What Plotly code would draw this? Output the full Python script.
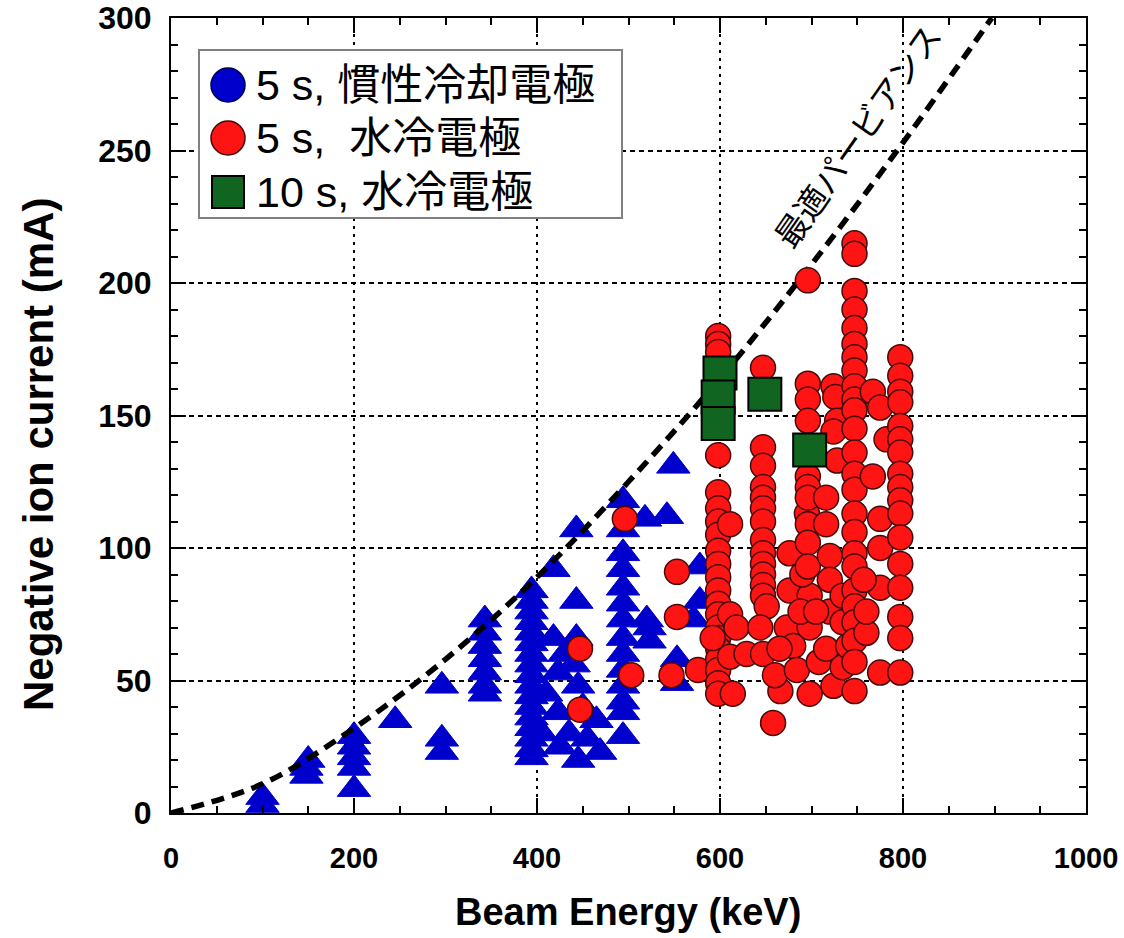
import plotly.graph_objects as go

# --- 5 s, inertially cooled electrode (triangles) ---
tri_x = [100, 100,
         148, 148, 150,
         200, 200, 200, 200, 200,
         245,
         296, 296, 296,
         343, 343, 343, 343, 343, 343, 343,
         394, 394, 394, 394, 394, 394, 394, 394, 394, 394, 394, 394, 394, 394, 394, 394, 394,
         405, 418, 418, 423, 423, 425, 443, 443, 443, 445, 445, 465, 469,
         430, 440, 450, 435, 455, 410,
         494, 494, 494, 494, 494, 494, 494, 494, 494, 494, 494, 494, 494, 494,
         518, 520, 523, 523, 542, 549, 553, 553, 571, 578, 578]
tri_y = [3, 6,
         14, 17, 20,
         29, 25, 21, 17, 9,
         35,
         48, 28, 23,
         73, 68, 63, 58, 53, 48, 45,
         84, 80, 76, 72, 68, 64, 60, 56, 52, 48, 44, 40, 36, 32, 28, 24, 21,
         30, 92, 66, 53, 38, 25, 107, 80, 66, 48, 20, 35, 23,
         60, 56, 40, 30, 28, 45,
         118, 107, 98, 92, 85, 79, 73, 66, 60, 54, 48, 42, 38, 29,
         111, 73, 65, 70, 112, 131, 58, 49, 73, 93, 80]

# --- 5 s, water-cooled electrode (circles) ---
circ_x = [447, 447, 496, 503, 547, 553, 553, 576,
          598, 598, 598, 598, 598, 598, 598, 598, 598, 598, 598, 598, 598, 598, 598, 598, 598, 598, 598, 598, 598,
          611, 614, 611, 618, 611, 629, 592,
          647, 647, 647, 647, 647, 647, 647, 647, 647, 647, 647, 647, 647,
          651, 644, 647, 666, 658, 660,
          676, 695, 676, 698, 673, 698, 680, 684, 698, 690, 665, 688, 708,
          696, 696, 696, 696, 696, 696, 696, 696, 696, 696,
          716, 716, 720, 720, 720, 716, 724, 734, 734, 734, 724, 726, 728, 724, 728, 705, 740,
          747, 747, 747, 747, 747, 747, 747, 747, 747, 747, 747, 747, 747, 747, 747, 747, 747,
          747, 747, 747, 747, 747, 747, 747, 747,
          767, 775, 782, 767, 775, 775, 775, 760, 760, 775, 757,
          797, 797, 797, 797, 797, 797, 797, 797, 797, 797, 797, 797, 797, 797, 797, 797, 797]
circ_y = [62, 39, 111, 52, 52, 91, 74, 54,
          180, 177, 174, 135, 121, 115, 110, 105, 99, 94, 89, 84, 79, 75, 70, 66, 62, 58, 54, 49, 45,
          109, 45, 75, 70, 59, 60, 66,
          168, 138, 131, 123, 119, 115, 110, 103, 98, 94, 90, 86, 82,
          78, 70, 60, 46, 34, 52,
          98, 113, 84, 82, 70, 70, 63, 54, 45, 90, 62, 76, 57,
          201, 162, 156, 148, 127, 123, 119, 109, 102, 93,
          109, 119, 97, 88, 76, 62, 48, 72, 82, 55, 161, 157, 148, 144, 133, 76, 63,
          215, 211, 197, 190, 183, 177, 172, 167, 161, 156, 152, 145, 136, 128, 122, 113, 106,
          98, 93, 84, 78, 72, 65, 57, 46,
          159, 153, 141, 127, 111, 100, 85, 68, 76, 53, 88,
          172, 165, 159, 155, 146, 141, 136, 128, 123, 118, 113, 104, 94, 85, 74, 66, 53]

# --- 10 s, water-cooled electrode (squares) ---
sq_x = [600, 598, 598, 649, 698]
sq_y = [166, 157, 147, 158, 137]

# --- optimum perveance curve ---
perv_x = [0, 100, 200, 300, 400, 500, 600, 700, 800, 897]
perv_y = [0, 11, 32, 58, 89, 125, 164, 207, 253, 300]

x_ticks = [0, 200, 400, 600, 800, 1000]
y_ticks = [0, 50, 100, 150, 200, 250, 300]

legend_labels = ["5 s, 慣性冷却電極", "5 s,\u00a0\u00a0水冷電極", "10 s, 水冷電極"]

BLUE = "rgb(0,0,205)"
RED = "rgb(255,20,20)"
GREEN = "rgb(16,102,32)"

fig = go.Figure()

fig.add_trace(go.Scatter(
    x=tri_x, y=tri_y, mode="markers", showlegend=False,
    marker=dict(symbol="triangle-up", size=29, color=BLUE,
                line=dict(color=BLUE, width=1)),
))
fig.add_trace(go.Scatter(
    x=perv_x, y=perv_y, mode="lines", showlegend=False,
    line=dict(color="black", width=5.5, dash="13px,8px", shape="spline"),
))
fig.add_trace(go.Scatter(
    x=circ_x, y=circ_y, mode="markers", showlegend=False,
    marker=dict(symbol="circle", size=25, color=RED,
                line=dict(color="rgb(70,10,10)", width=1.5)),
))
fig.add_trace(go.Scatter(
    x=sq_x, y=sq_y, mode="markers", showlegend=False,
    marker=dict(symbol="square", size=33, color=GREEN,
                line=dict(color="black", width=2)),
))

W, H = 1124, 938
L, R, T, B = 171, 38, 18, 125
PW, PH = W - L - R, H - T - B


def px_x(p):
    return (p - L) / PW


def px_y(p):
    return (H - B - p) / PH


# legend box drawn by hand so the symbols can be large
shapes = [dict(type="rect", xref="paper", yref="paper",
               x0=px_x(199), x1=px_x(622), y0=px_y(218), y1=px_y(50),
               fillcolor="white", line=dict(color="rgb(128,128,128)", width=2),
               layer="above")]
row_y = [85, 138, 192]
sym_styles = [
    dict(type="circle", fillcolor=BLUE, line=dict(color="rgb(0,0,80)", width=1.5)),
    dict(type="circle", fillcolor=RED, line=dict(color="rgb(70,10,10)", width=1.5)),
    dict(type="rect", fillcolor=GREEN, line=dict(color="black", width=2)),
]
for ry, st in zip(row_y, sym_styles):
    half = 17 if st["type"] == "circle" else 16
    shapes.append(dict(
        xref="paper", yref="paper", layer="above",
        xsizemode="pixel", ysizemode="pixel",
        xanchor=px_x(228), yanchor=px_y(ry),
        x0=-half, x1=half, y0=-half, y1=half, **st))

annotations = []
for ry, lab in zip(row_y, legend_labels):
    annotations.append(dict(
        xref="paper", yref="paper", x=px_x(254), y=px_y(ry),
        xanchor="left", yanchor="middle", showarrow=False, text=lab,
        font=dict(family="Liberation Sans, Noto Sans CJK JP", size=43, color="black")))

annotations.append(dict(
    xref="x", yref="y", x=749, y=256, text="最適パービアンス", showarrow=False,
    textangle=-55, font=dict(family="Noto Sans CJK JP", size=33, color="black")))

annotations.append(dict(
    xref="paper", yref="paper", x=px_x(628), y=px_y(912), xanchor="center", yanchor="middle",
    showarrow=False, text="Beam Energy (keV)",
    font=dict(family="Liberation Sans", size=38, color="black", weight="bold")))
annotations.append(dict(
    xref="paper", yref="paper", x=px_x(38), y=px_y(455), xanchor="center", yanchor="middle",
    showarrow=False, text="Negative ion current (mA)", textangle=-90,
    font=dict(family="Liberation Sans", size=42, color="black", weight="bold")))

axis_common = dict(
    showline=True, linecolor="black", linewidth=2, mirror="ticks",
    ticks="inside", tickcolor="black", tickwidth=2, ticklen=15,
    showgrid=True, gridcolor="black", gridwidth=1.5,
    zeroline=False, tickmode="array", automargin=False,
    ticklabeloverflow="allow",
)

fig.update_layout(
    width=W, height=H,
    margin=dict(l=L, r=R, t=T, b=B, pad=0, autoexpand=False),
    paper_bgcolor="white", plot_bgcolor="white",
    showlegend=False,
    xaxis=dict(range=[0, 1000], tickvals=x_ticks, ticktext=[str(v) for v in x_ticks],
               griddash="3px,5px", ticklabelstandoff=18,
               tickfont=dict(family="Liberation Sans", size=29, color="black", weight="bold"),
               minor=dict(dtick=50, tick0=0, ticks="inside", ticklen=7, tickwidth=1.5,
                          tickcolor="black", showgrid=False),
               **axis_common),
    yaxis=dict(range=[0, 300], tickvals=y_ticks, ticktext=[str(v) for v in y_ticks],
               griddash="5px,4px", ticklabelstandoff=11,
               tickfont=dict(family="Liberation Sans", size=32, color="black", weight="bold"),
               minor=dict(dtick=10, tick0=0, ticks="inside", ticklen=7, tickwidth=1.5,
                          tickcolor="black", showgrid=False),
               **axis_common),
    shapes=shapes,
    annotations=annotations,
)

fig.write_html("out.html")
